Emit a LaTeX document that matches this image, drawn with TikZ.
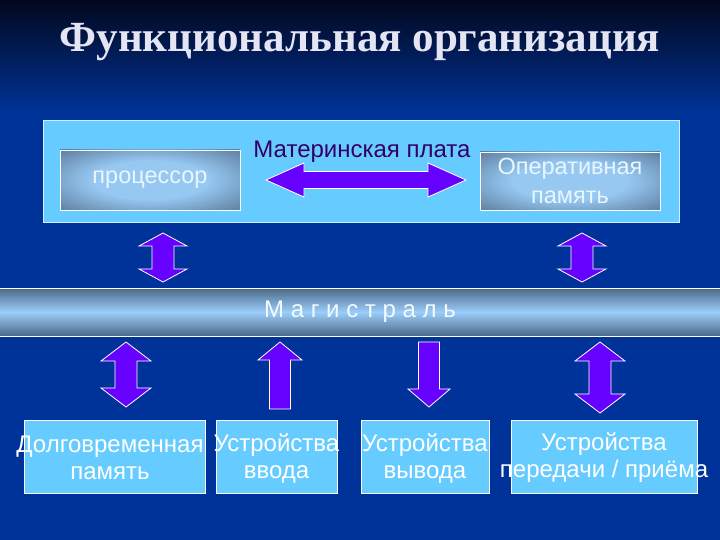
\documentclass[tikz,border=0pt]{standalone}
\usepackage{fontspec}
\setmainfont{Liberation Sans}
\newfontfamily\titlefont{Liberation Serif}
\definecolor{bgblue}{RGB}{0,51,153}
\definecolor{topnavy}{RGB}{2,8,30}
\definecolor{cyanbox}{RGB}{102,204,255}
\definecolor{arrowpurple}{RGB}{102,0,255}
\definecolor{mbtext}{RGB}{51,0,102}
\definecolor{titlewhite}{RGB}{228,228,242}
\definecolor{chipdark}{RGB}{82,110,140}
\definecolor{chiplight}{RGB}{150,200,242}
\definecolor{busdark}{RGB}{75,105,135}
\definecolor{buslight}{RGB}{155,205,250}
\pgfdeclareradialshading{chipshade}{\pgfpoint{0bp}{0bp}}{color(0bp)=(chiplight); color(16bp)=(chiplight); color(40bp)=(chipdark); color(60bp)=(chipdark)}
% vertical double arrow: cx, ytop, ybottom, head half width, shaft half width, head length
\newcommand\myvdbl[6]{%
  \draw[arrowshape] (#1,#2) -- ({#1+#4},{#2+#6}) -- ({#1+#5},{#2+#6}) -- ({#1+#5},{#3-#6})
    -- ({#1+#4},{#3-#6}) -- (#1,#3) -- ({#1-#4},{#3-#6}) -- ({#1-#5},{#3-#6})
    -- ({#1-#5},{#2+#6}) -- ({#1-#4},{#2+#6}) -- cycle;}
% up arrow
\newcommand\myvup[6]{%
  \draw[arrowshape] (#1,#2) -- ({#1+#4},{#2+#6}) -- ({#1+#5},{#2+#6}) -- ({#1+#5},#3)
    -- ({#1-#5},#3) -- ({#1-#5},{#2+#6}) -- ({#1-#4},{#2+#6}) -- cycle;}
% down arrow
\newcommand\myvdown[6]{%
  \draw[arrowshape] ({#1-#5},#2) -- ({#1+#5},#2) -- ({#1+#5},{#3-#6}) -- ({#1+#4},{#3-#6})
    -- (#1,#3) -- ({#1-#4},{#3-#6}) -- ({#1-#5},{#3-#6}) -- cycle;}
\begin{document}
\begin{tikzpicture}[x=1pt,y=-1pt,
  arrowshape/.style={fill=arrowpurple, draw=white, line width=0.8pt, line join=miter},
  chip/.style={draw=white, line width=0.8pt, shading=chipshade,
    text=white!85!cyanbox, align=center, font=\fontsize{23.5}{29}\selectfont},
  devbox/.style={draw=white, line width=0.8pt, fill=cyanbox, minimum height=73, inner sep=0pt},
  devtext/.style={text=white, align=center, font=\fontsize{24}{27}\selectfont, inner sep=0pt}]
\useasboundingbox (0,0) rectangle (720,540);
\fill[bgblue] (0,0) rectangle (720,540);
\shade[top color=topnavy, bottom color=bgblue] (0,0) rectangle (720,115);

\node[text=titlewhite, font=\titlefont\bfseries\fontsize{43}{50}\selectfont] (title) at (360,42) {Функциональная организация};

% motherboard
\node[draw=white!70!cyanbox, fill=cyanbox, line width=0.8pt, minimum width=636, minimum height=102] (mb) at (361,171) {};
\node[chip, minimum width=180, minimum height=60] (cpu) at (150,180) {процессор};
\node[chip, minimum width=180, minimum height=58] (ram) at (570,181) {Оперативная\\память};
\node[text=mbtext, font=\fontsize{24}{28}\selectfont] (mbl) at (362,152) {Материнская плата};

% horizontal double arrow between cpu and ram
\draw[arrowshape] (266,180) -- (304,163) -- (304,171.5) -- (428,171.5) -- (428,163) -- (466,180)
  -- (428,197) -- (428,188.5) -- (304,188.5) -- (304,197) -- cycle;

% bus
\node[draw=white, line width=0.8pt, minimum width=722, minimum height=48,
  top color=busdark, bottom color=busdark, middle color=buslight,
  text=white!92!cyanbox, font=\fontsize{24}{28}\selectfont] (bus) at (360,312) {М а г и с т р а л ь};

% arrows motherboard <-> bus
\myvdbl{163}{233}{282}{24}{11}{13}
\myvdbl{582}{233}{282}{24}{11}{13}

% devices
\node[devbox, minimum width=181] (ltm) at (114.5,456.5) {};
\node[devbox, minimum width=121] (inp) at (276.5,456.5) {};
\node[devbox, minimum width=128] (outp) at (425,456.5) {};
\node[devbox, minimum width=186] (comm) at (604,456.5) {};
\node[devtext] (ltmt) at (110,458) {Долговременная\\память};
\node[devtext] (inpt) at (276.5,458) {Устройства\\ввода};
\node[devtext] (outpt) at (425,458) {Устройства\\вывода};
\node[devtext] (commt) at (604,458) {Устройства\\передачи / приёма};

% arrows bus <-> devices
\myvdbl{126}{342}{407}{25}{11}{19}
\myvup{280}{342}{409}{22}{10.5}{18}
\myvdown{429}{342}{407}{21}{10.5}{18}
\myvdbl{600}{342}{413}{25}{11}{19}
\end{tikzpicture}
\end{document}
